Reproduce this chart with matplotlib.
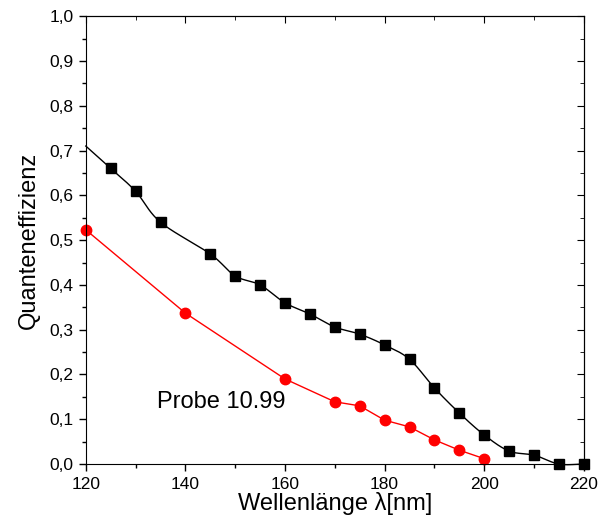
import numpy as np
import matplotlib
matplotlib.use("Agg")
import matplotlib.pyplot as plt
from matplotlib.ticker import MultipleLocator, FuncFormatter

plt.rcParams['font.family'] = ['Liberation Sans', 'DejaVu Sans']

# black series (line begins at 120, markers from 125 on)
wl_black = [120, 125, 130, 135, 145, 150, 155, 160, 165, 170, 175, 180,
            185, 190, 195, 200, 205, 210, 215, 220]
qe_black = [0.71, 0.66, 0.609, 0.54, 0.469, 0.42, 0.40, 0.36, 0.335, 0.306,
            0.29, 0.266, 0.234, 0.17, 0.114, 0.065, 0.029, 0.02, 0.0, 0.0]

# red series
wl_red = [120, 140, 160, 170, 175, 180, 185, 190, 195, 200]
qe_red = [0.523, 0.337, 0.19, 0.139, 0.13, 0.098, 0.083, 0.054, 0.031, 0.012]


def catmull_rom(x, y, n=20):
    # smooth curve through the points, like Origin's spline connect
    x = np.asarray(x, float)
    y = np.asarray(y, float)
    px = np.concatenate([[2 * x[0] - x[1]], x, [2 * x[-1] - x[-2]]])
    py = np.concatenate([[2 * y[0] - y[1]], y, [2 * y[-1] - y[-2]]])
    xs, ys = [], []
    t = np.linspace(0, 1, n, endpoint=False)
    for i in range(1, len(px) - 2):
        for p, out in ((px, xs), (py, ys)):
            p0, p1, p2, p3 = p[i - 1], p[i], p[i + 1], p[i + 2]
            out.extend(0.5 * (2 * p1 + (-p0 + p2) * t
                              + (2 * p0 - 5 * p1 + 4 * p2 - p3) * t ** 2
                              + (-p0 + 3 * p1 - 3 * p2 + p3) * t ** 3))
    xs.append(x[-1])
    ys.append(y[-1])
    return np.array(xs), np.array(ys)


fig = plt.figure(figsize=(6, 5.22), dpi=100)
ax = fig.add_axes([0.143, 0.111, 0.830, 0.858])

sx, sy = catmull_rom(wl_black, qe_black)
ax.plot(sx, sy, color='black', lw=1.0, clip_on=False)
ax.plot(wl_black[1:], qe_black[1:], 's', color='black', ms=7, clip_on=False)

ax.plot(wl_red, qe_red, '-', color='red', lw=1.0)
ax.plot(wl_red, qe_red, 'o', color='red', ms=7.5, clip_on=False)

ax.text(134.3, 0.138, 'Probe 10.99', fontsize=17, va='center', ha='left')

ax.set_xlim(120, 220)
ax.set_ylim(0, 1.0)
ax.xaxis.set_major_locator(MultipleLocator(20))
ax.xaxis.set_minor_locator(MultipleLocator(10))
ax.yaxis.set_major_locator(MultipleLocator(0.1))
ax.yaxis.set_minor_locator(MultipleLocator(0.05))
ax.yaxis.set_major_formatter(FuncFormatter(lambda v, p: f"{v:.1f}".replace('.', ',')))

ax.tick_params(which='both', direction='out', top=False, right=False,
               labelsize=12.5, width=1, pad=4)
ax.tick_params(which='major', length=5)
ax.tick_params(which='minor', length=3)

# inward ticks on top and right
axt = ax.secondary_xaxis('top')
axt.xaxis.set_major_locator(MultipleLocator(20))
axt.xaxis.set_minor_locator(MultipleLocator(10))
axt.tick_params(which='both', direction='in', labeltop=False)
axt.tick_params(which='major', length=5)
axt.tick_params(which='minor', length=3)
axr = ax.secondary_yaxis('right')
axr.yaxis.set_major_locator(MultipleLocator(0.1))
axr.yaxis.set_minor_locator(MultipleLocator(0.05))
axr.tick_params(which='both', direction='in', labelright=False)
axr.tick_params(which='major', length=5)
axr.tick_params(which='minor', length=3)

ax.set_xlabel('Wellenlänge λ[nm]', fontsize=17, labelpad=0)
ax.set_ylabel('Quanteneffizienz', fontsize=17, labelpad=7)

plt.savefig('out.png', dpi=100)
